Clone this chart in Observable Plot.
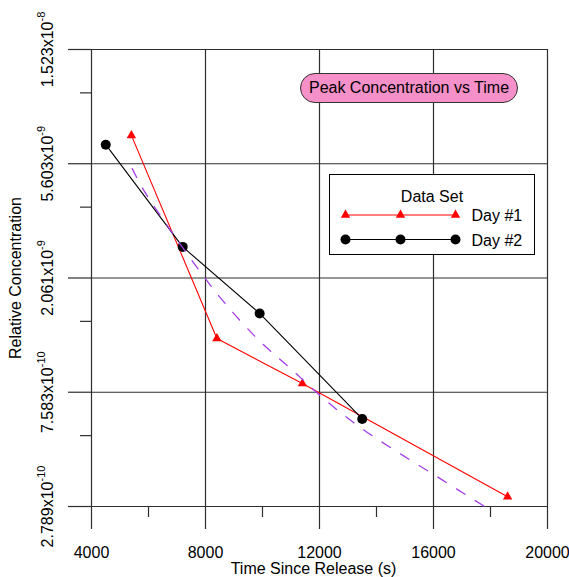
<!DOCTYPE html>
<html><head><meta charset="utf-8">
<script src="https://cdn.jsdelivr.net/npm/d3@7"></script>
<script src="https://cdn.jsdelivr.net/npm/@observablehq/plot@0.6"></script>
<style>
body{margin:0;background:#fff;}
#wrap{position:relative;width:569px;height:577px;font-family:"Liberation Sans",Arial,sans-serif;}
#title{position:absolute;left:300px;top:73px;width:218px;height:30px;box-sizing:border-box;border:1px solid #333;border-radius:15px;background:#f690c8;font-size:16px;line-height:28px;text-align:center;color:#000;}
#legend{position:absolute;left:0;top:0;pointer-events:none;}
</style></head><body><div id="wrap"></div>
<script>
const xMajorTicks = [4000, 8000, 12000, 16000, 20000];
const xMinorTicks = [6000, 10000, 14000, 18000];
const yMajorTicks = [2.789e-10, 7.583e-10, 2.061e-9, 5.603e-9, 1.523e-8];
const yTickLabels = ["2.789x10^-10", "7.583x10^-10", "2.061x10^-9", "5.603x10^-9", "1.523x10^-8"];
const yMinorTicks = [5.186e-10, 1.410e-9, 3.832e-9, 1.042e-8];
const day1Time = [5400, 8400, 11400, 18600];
const day1Conc = [7.18e-9, 1.214e-9, 8.18e-10, 3.04e-10];
const day2Time = [4500, 7200, 9900, 13500];
const day2Conc = [6.62e-9, 2.706e-9, 1.511e-9, 6.0e-10];
const fitTime = [5428, 5835, 6772, 7730, 8642, 9870, 11042, 12270, 13554, 14902, 16305, 17790];
const fitConc = [5.37e-9, 4.44e-9, 3.13e-9, 2.24e-9, 1.672e-9, 1.196e-9, 9.21e-10, 6.98e-10, 5.45e-10, 4.38e-10, 3.52e-10, 2.79e-10];
const seriesNames = ["Day #1", "Day #2"];
const legendTitle = "Data Set";
const chartTitle = "Peak Concentration vs Time";
const xTitle = "Time Since Release (s)";
const yTitle = "Relative Concentration";

const day1 = day1Time.map((t, i) => ({t, c: day1Conc[i]}));
const day2 = day2Time.map((t, i) => ({t, c: day2Conc[i]}));
const fit = fitTime.map((t, i) => ({t, c: fitConc[i]}));

const gridColor = "#2e2e2e";
const font = "'Liberation Sans', Arial, sans-serif";

const chart = Plot.plot({
  width: 569, height: 577,
  marginLeft: 91, marginRight: 22, marginTop: 49, marginBottom: 71,
  style: {fontFamily: font, fontSize: "16px", background: "white", color: "black"},
  x: {domain: [xMajorTicks[0], xMajorTicks[xMajorTicks.length - 1]]},
  y: {type: "log", domain: [yMajorTicks[0], yMajorTicks[yMajorTicks.length - 1]]},
  marks: [
    Plot.ruleX(xMajorTicks, {stroke: gridColor, strokeWidth: 1.2}),
    Plot.ruleY(yMajorTicks, {stroke: gridColor, strokeWidth: 1.2}),
    Plot.axisX(xMajorTicks, {tickSize: 23, tickPadding: 17, tickFormat: d => String(d), fontSize: 16, label: null, stroke: gridColor, strokeWidth: 1.2}),
    Plot.axisX(xMinorTicks, {tickSize: 11, tickFormat: () => "", label: null, stroke: gridColor, strokeWidth: 1.2}),
    Plot.axisY(yMajorTicks, {tickSize: 23, tickFormat: () => "", label: null, stroke: gridColor, strokeWidth: 1.2}),
    Plot.axisY(yMinorTicks, {tickSize: 11, tickFormat: () => "", label: null, stroke: gridColor, strokeWidth: 1.2}),
    Plot.text(yMajorTicks, {y: d => d, text: (d, i) => yTickLabels[i], frameAnchor: "left", textAnchor: "middle", lineAnchor: "middle", dx: -44, rotate: -90, fontSize: 16}),
    Plot.text([xTitle], {frameAnchor: "bottom", textAnchor: "middle", lineAnchor: "middle", dy: 62, dx: -6, fontSize: 16}),
    Plot.text([yTitle], {frameAnchor: "left", textAnchor: "middle", lineAnchor: "middle", dx: -76, rotate: -90, fontSize: 16}),
    Plot.line(day1, {x: "t", y: "c", stroke: "#ff0000", strokeWidth: 1.1}),
    Plot.dot(day1, {x: "t", y: "c", symbol: "triangle", fill: "#ff0000", r: 3.5}),
    Plot.line(day2, {x: "t", y: "c", stroke: "#000", strokeWidth: 1.1}),
    Plot.dot(day2, {x: "t", y: "c", fill: "#000", r: 5}),
    Plot.line(fit, {x: "t", y: "c", stroke: "#a43ee6", strokeWidth: 1.3, strokeDasharray: "10,12", curve: "catmull-rom"})
  ]
});

// superscript exponents in the y tick labels
d3.select(chart).selectAll("text").each(function() {
  const t = d3.select(this);
  const s = t.text();
  if (s.indexOf("^") < 0) return;
  const [base, exp] = s.split("^");
  t.text(null);
  t.append("tspan").text(base);
  t.append("tspan").attr("font-size", 11).attr("dy", -8).text(exp);
});

const wrap = document.getElementById("wrap");
wrap.appendChild(chart);

const title = document.createElement("div");
title.id = "title";
title.textContent = chartTitle;
wrap.appendChild(title);

// legend overlay
const lg = d3.select(wrap).append("svg").attr("id", "legend").attr("width", 569).attr("height", 577)
  .style("font-family", font).style("font-size", "16px");
lg.append("rect").attr("x", 329.5).attr("y", 174.5).attr("width", 205).attr("height", 80)
  .attr("fill", "white").attr("stroke", "#000").attr("stroke-width", 1);
lg.append("text").attr("x", 432).attr("y", 201.5).attr("text-anchor", "middle").text(legendTitle);
const sx = [345.5, 400.5, 455.5];
const rows = [{y: 215, color: "#ff0000", sym: d3.symbolTriangle, size: Math.PI * 3.5 * 3.5},
              {y: 239.5, color: "#000", sym: d3.symbolCircle, size: Math.PI * 25}];
rows.forEach((r, i) => {
  lg.append("line").attr("x1", sx[0]).attr("x2", sx[2]).attr("y1", r.y).attr("y2", r.y)
    .attr("stroke", r.color).attr("stroke-width", 1.1);
  sx.forEach(x => lg.append("path").attr("d", d3.symbol(r.sym, r.size)())
    .attr("transform", `translate(${x},${r.y})`).attr("fill", r.color));
  lg.append("text").attr("x", 471.5).attr("y", r.y + 6).text(seriesNames[i]);
});
</script>
</body></html>
